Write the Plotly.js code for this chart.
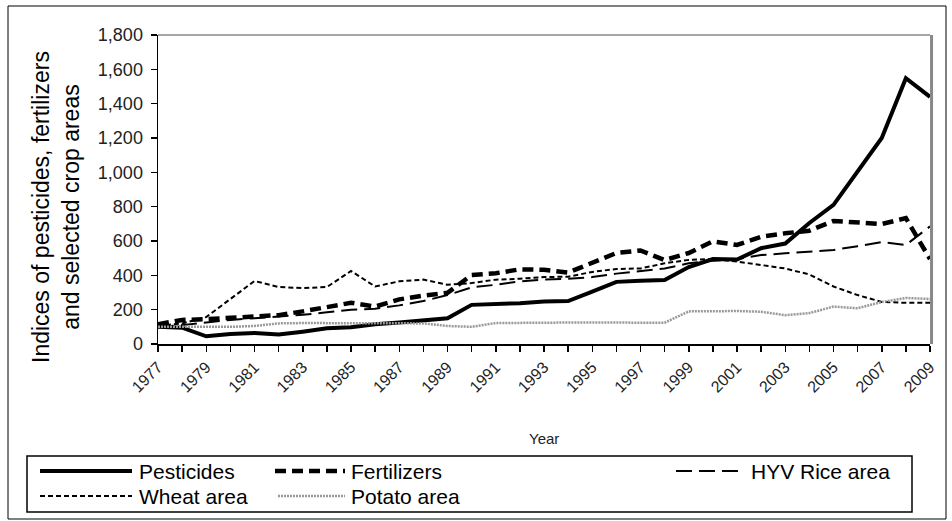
<!DOCTYPE html>
<html>
<head>
<meta charset="utf-8">
<script src="https://cdn.plot.ly/plotly-3.0.1.min.js"></script>
<style>
html,body{margin:0;padding:0;background:#fff;}
#chart{width:952px;height:521px;}
</style>
</head>
<body>
<div id="chart"></div>
<script>
const years = [1977,1978,1979,1980,1981,1982,1983,1984,1985,1986,1987,1988,1989,1990,1991,1992,1993,1994,1995,1996,1997,1998,1999,2000,2001,2002,2003,2004,2005,2006,2007,2008,2009];
const tickYears = [1977,1979,1981,1983,1985,1987,1989,1991,1993,1995,1997,1999,2001,2003,2005,2007,2009];
const pesticides = [100,95,45,58,64,55,72,92,97,115,125,138,150,228,232,238,248,250,305,362,368,373,448,495,492,558,585,705,810,1010,1200,1548,1440];
const fertilizers = [115,140,145,152,163,168,190,212,240,218,260,282,298,402,412,435,432,416,472,530,545,489,530,598,577,625,645,660,717,711,699,733,495];
const hyvRice = [100,110,125,140,150,160,170,185,200,205,225,250,285,330,345,365,375,380,390,410,425,440,470,485,495,518,528,536,548,570,594,577,685];
const wheat = [105,120,157,262,367,332,326,332,425,335,365,375,345,355,375,380,390,392,420,437,440,470,490,495,480,460,440,405,335,285,245,240,240];
const potato = [100,100,100,100,105,120,122,122,122,122,124,120,105,100,122,124,125,125,125,125,124,124,190,192,192,188,168,180,218,208,245,268,262];
const seriesNames = ["Pesticides","Fertilizers","HYV Rice area","Wheat area","Potato area"];

const styles = [
  {color:'#000', width:4},
  {color:'#000', width:4.5, dash:'11px,6px'},
  {color:'#000', width:2, dash:'16px,7px'},
  {color:'#000', width:2, dash:'5px,3px'},
  {color:'#999', width:2.5, dash:'2px,1px'}
];
const values = [pesticides, fertilizers, hyvRice, wheat, potato];

const traces = values.map((v, i) => ({
  x: years, y: v, name: seriesNames[i], type:'scatter', mode:'lines', line: styles[i]
}));

const L = 158, R = 930, T = 35, B = 344;
const px = v => (v - L) / (R - L);
const py = v => (B - v) / (B - T);
const FONT = 'Arial, Liberation Sans, sans-serif';

// manual legend layout (pixel positions of sample start/end and text start, row y)
const legendSlots = [
  {s0:40, s1:132, tx:137, y:471},   // Pesticides
  {s0:275, s1:345, tx:349, y:471},  // Fertilizers
  {s0:676, s1:745, tx:749, y:471},  // HYV
  {s0:40, s1:132, tx:137, y:496},   // Wheat
  {s0:278, s1:345, tx:349, y:496}   // Potato
];

const shapes = [
  {type:'line', xref:'paper', yref:'paper', x0:0, x1:1, y0:1, y1:1, line:{color:'#888', width:1.5}},
  {type:'line', xref:'paper', yref:'paper', x0:1.002, x1:1.002, y0:0, y1:1, line:{color:'#888', width:3}},
  {type:'rect', xref:'paper', yref:'paper', x0:px(27), x1:px(912), y0:py(456), y1:py(512), line:{color:'#000', width:1.5}},
  {type:'rect', xref:'paper', yref:'paper', x0:px(8), x1:px(946), y0:py(6), y1:py(519), line:{color:'#000', width:1}}
];
const annotations = [
  {text:'Indices of pesticides, fertilizers<br>and selected crop areas', xref:'paper', yref:'paper',
   x:px(56), y:py(207), xanchor:'center', yanchor:'middle', textangle:-90, showarrow:false,
   font:{family:FONT, size:23, color:'#000'}},
  {text:'Year', xref:'paper', yref:'paper', x:px(544), y:py(438), xanchor:'center', yanchor:'middle',
   showarrow:false, font:{family:FONT, size:15, color:'#222'}}
];
legendSlots.forEach((s, i) => {
  shapes.push({type:'line', xref:'paper', yref:'paper', x0:px(s.s0), x1:px(s.s1), y0:py(s.y), y1:py(s.y), line:styles[i]});
  annotations.push({text:seriesNames[i], xref:'paper', yref:'paper', x:px(s.tx), y:py(s.y), xanchor:'left', yanchor:'middle',
    showarrow:false, font:{family:FONT, size:21, color:'#000'}});
});

const layout = {
  width:952, height:521,
  margin:{l:L, r:952-R, t:T, b:521-B, autoexpand:false},
  paper_bgcolor:'#fff', plot_bgcolor:'#fff',
  font:{family:FONT, color:'#222'},
  showlegend:false,
  xaxis:{
    range:[1977,2009], showgrid:false, zeroline:false,
    tickvals:tickYears, ticktext:tickYears.map(String), tickangle:-45,
    ticks:'outside', ticklen:6, tickcolor:'#000', tickwidth:1.5,
    minor:{dtick:1, tick0:1977, ticks:'outside', ticklen:6, tickcolor:'#000', tickwidth:1.5, showgrid:false},
    showline:true, linecolor:'#000', linewidth:1.5,
    tickfont:{family:FONT, size:16, color:'#222'}, automargin:false
  },
  yaxis:{
    range:[0,1800], dtick:200, tickformat:',d', showgrid:false, zeroline:false,
    ticks:'outside', ticklen:6, tickcolor:'#000', tickwidth:1.5, ticklabelstandoff:4,
    showline:true, linecolor:'#000', linewidth:1.5,
    tickfont:{family:FONT, size:18, color:'#222'}, automargin:false
  },
  annotations: annotations,
  shapes: shapes
};

Plotly.newPlot('chart', traces, layout, {displayModeBar:false, staticPlot:true});
</script>
</body>
</html>
